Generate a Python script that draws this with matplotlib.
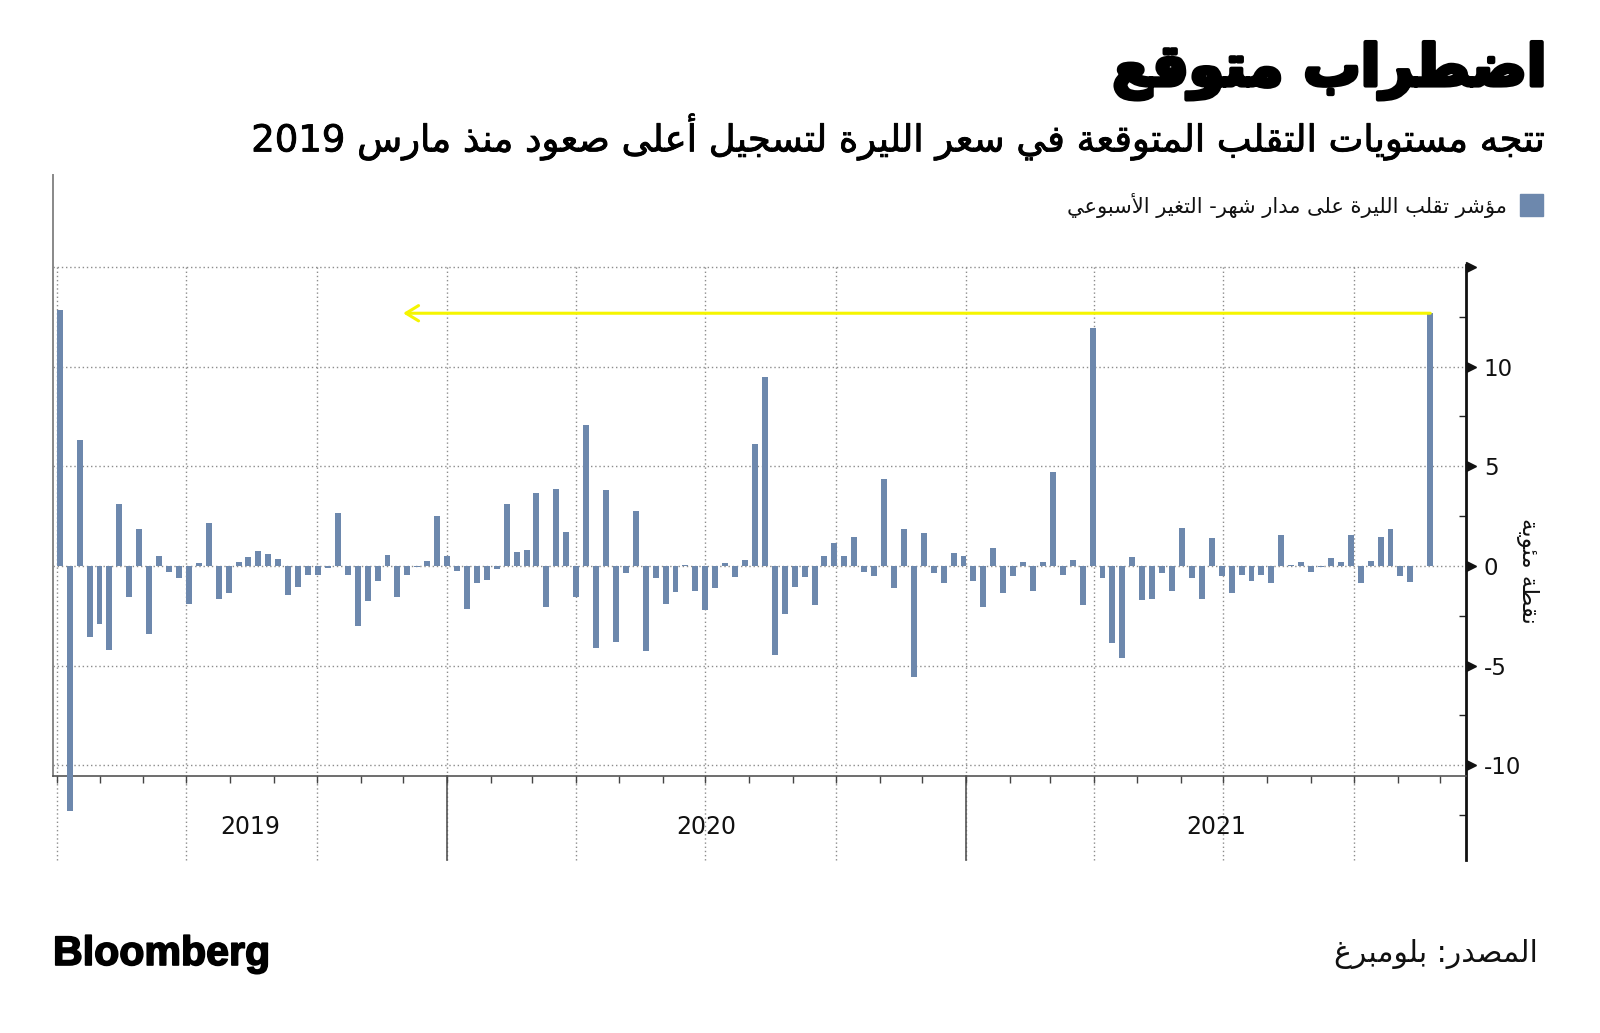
import re
import pandas as pd
import matplotlib
matplotlib.use('Agg')
import matplotlib.pyplot as plt
import matplotlib.dates as mdates
import matplotlib.transforms as mtransforms
import matplotlib.patheffects as pe
from matplotlib.patches import Rectangle
from matplotlib.ticker import FixedLocator

plt.rcParams['font.family'] = ['DejaVu Sans']
plt.rcParams['axes.unicode_minus'] = False

# ---- texts ----
title = 'اضطراب متوقع'
subtitle = 'تتجه مستويات التقلب المتوقعة في سعر الليرة لتسجيل أعلى صعود منذ مارس 2019'
legend_label = 'مؤشر تقلب الليرة على مدار شهر- التغير الأسبوعي'
y_label = 'نقطة مئوية'
source = 'المصدر: بلومبرغ'
logo = 'Bloomberg'

# ---- data: weekly change of the lira 1-month volatility index ----
first_week = '2019-04-03'
weekly_change = [
    12.84, -12.29, 6.32, -3.55, -2.89, -4.23, 3.11, -1.56, 1.84, -3.39,
    0.52, -0.32, -0.60, -1.89, 0.13, 2.16, -1.64, -1.37, 0.18, 0.43,
    0.77, 0.59, 0.33, -1.45, -1.07, -0.43, -0.43, -0.10, 2.66, -0.43,
    -3.03, -1.76, -0.75, 0.57, -1.56, -0.43, -0.05, 0.25, 2.53, 0.50,
    -0.23, -2.14, -0.87, -0.69, -0.17, 3.11, 0.69, 0.82, 3.68, -2.07,
    3.86, 1.72, -1.56, 7.09, -4.10, 3.80, -3.80, -0.37, 2.74, -4.28,
    -0.62, -1.89, -1.32, 0.07, -1.25, -2.21, -1.12, 0.13, -0.55, 0.32,
    6.14, 9.50, -4.48, -2.39, -1.05, -0.55, -1.96, 0.50, 1.14, 0.50,
    1.45, -0.30, -0.50, 4.36, -1.12, 1.84, -5.55, 1.64, -0.37, -0.87,
    0.64, 0.50, -0.75, -2.07, 0.89, -1.37, -0.50, 0.18, -1.25, 0.18,
    4.73, -0.43, 0.32, -1.96, 11.94, -0.62, -3.85, -4.60, 0.43, -1.71,
    -1.64, -0.37, -1.25, 1.89, -0.62, -1.64, 1.39, -0.50, -1.37, -0.43,
    -0.75, -0.43, -0.87, 1.57, 0.05, 0.18, -0.32, -0.05, 0.38, 0.18,
    1.57, -0.87, 0.25, 1.45, 1.84, -0.50, -0.80, 0.0, 12.68,
]
weeks = pd.date_range(first_week, periods=len(weekly_change), freq='7D')

x_range = ('2019-03-29', '2021-12-19')
arrow_to = '2019-12-01'
y_ticks = [-10, -5, 0, 5, 10, 15]
y_tick_labels = ['-10', '-5', '0', '5', '10', '']
y_minor = [-7.5, -2.5, 2.5, 7.5, 12.5]
y_minor_below = -12.5

BAR = '#6d88ad'
GRID = '#8c8c8c'

# ---- minimal arabic shaping (presentation forms + right-to-left order) ----
AR_FORMS = {
    'ء': (0xFE80, 1), 'آ': (0xFE81, 2), 'أ': (0xFE83, 2), 'ؤ': (0xFE85, 2),
    'إ': (0xFE87, 2), 'ئ': (0xFE89, 4), 'ا': (0xFE8D, 2), 'ب': (0xFE8F, 4),
    'ة': (0xFE93, 2), 'ت': (0xFE95, 4), 'ث': (0xFE99, 4), 'ج': (0xFE9D, 4),
    'ح': (0xFEA1, 4), 'خ': (0xFEA5, 4), 'د': (0xFEA9, 2), 'ذ': (0xFEAB, 2),
    'ر': (0xFEAD, 2), 'ز': (0xFEAF, 2), 'س': (0xFEB1, 4), 'ش': (0xFEB5, 4),
    'ص': (0xFEB9, 4), 'ض': (0xFEBD, 4), 'ط': (0xFEC1, 4), 'ظ': (0xFEC5, 4),
    'ع': (0xFEC9, 4), 'غ': (0xFECD, 4), 'ف': (0xFED1, 4), 'ق': (0xFED5, 4),
    'ك': (0xFED9, 4), 'ل': (0xFEDD, 4), 'م': (0xFEE1, 4), 'ن': (0xFEE5, 4),
    'ه': (0xFEE9, 4), 'و': (0xFEED, 2), 'ى': (0xFEEF, 2), 'ي': (0xFEF1, 4),
}
LAM_ALEF = {'ا': 0xFEFB, 'أ': 0xFEF7, 'إ': 0xFEF9, 'آ': 0xFEF5}


def shape(text):
    chars = []
    i = 0
    while i < len(text):
        if text[i] == 'ل' and i + 1 < len(text) and text[i + 1] in LAM_ALEF:
            chars.append(('LA', text[i + 1]))
            i += 2
        else:
            chars.append(text[i])
            i += 1
    out = []
    for k, c in enumerate(chars):
        prev = chars[k - 1] if k > 0 else None
        nxt = chars[k + 1] if k + 1 < len(chars) else None
        jp = isinstance(prev, str) and prev in AR_FORMS and AR_FORMS[prev][1] == 4
        jn = isinstance(nxt, tuple) or (isinstance(nxt, str) and nxt in AR_FORMS
                                        and AR_FORMS[nxt][1] > 1)
        if isinstance(c, tuple):
            out.append(chr(LAM_ALEF[c[1]] + (1 if jp else 0)))
            continue
        if c not in AR_FORMS:
            out.append(c)
            continue
        base, n = AR_FORMS[c]
        if n == 4:
            off = 3 if (jp and jn) else 1 if jp else 2 if jn else 0
        elif n == 2:
            off = 1 if jp else 0
        else:
            off = 0
        out.append(chr(base + off))
    return ''.join(out)


def rtl(text):
    parts = re.findall(r'[0-9]+|[^0-9]+', shape(text))
    return ''.join(p if p.isdigit() else p[::-1] for p in reversed(parts))


W, H = 1600, 1033
fig = plt.figure(figsize=(W / 100, H / 100), dpi=100)


def fx(px):
    return px / W


def fy(py):
    return 1 - py / H


ax_left, ax_right, ax_top, ax_bot = 52.7, 1465.7, 265, 776
ax = fig.add_axes([fx(ax_left), fy(ax_bot), fx(ax_right - ax_left), (ax_bot - ax_top) / H])

bars = ax.bar(weeks, weekly_change, width=4.2, color=BAR, zorder=3)
for b in bars:
    b.set_clip_on(False)

ax.set_xlim(pd.Timestamp(x_range[0]), pd.Timestamp(x_range[1]))
ax.set_ylim(-10.54, 15.1)

# y axis on the right with arrow markers
ax.yaxis.tick_right()
ax.yaxis.set_major_locator(FixedLocator(y_ticks))
ax.set_yticklabels(y_tick_labels)
ax.yaxis.set_minor_locator(FixedLocator(y_minor))
ax.tick_params(axis='y', which='major', length=0, pad=13, labelsize=16.5, labelcolor='#111')
ax.tick_params(axis='y', which='minor', direction='in', length=5, width=1, color='#222')
ax.grid(axis='y', which='major', ls=(0, (1, 2)), color=GRID, lw=1, zorder=0)
tr = mtransforms.offset_copy(ax.get_yaxis_transform(), fig=fig, x=4, y=0, units='points')
ax.plot([1] * len(y_ticks), y_ticks, ls='none', marker='>', ms=7, color='#111',
        transform=tr, clip_on=False, zorder=5)
# minor tick below the x axis on the extended right spine
ax.plot([1], [y_minor_below], ls='none', marker=0, ms=5, mew=1, color='#222',
        transform=ax.get_yaxis_transform(), clip_on=False)

# x axis: monthly ticks, quarterly dotted lines, yearly separators
ax.xaxis.set_major_locator(mdates.MonthLocator())
ax.tick_params(axis='x', which='major', length=5, width=1, color='#444', labelbottom=False)
band = -(860 - ax_bot) / (ax_bot - ax_top)
for q in pd.date_range('2019-04-01', x_range[1], freq='QS'):
    ax.axvline(q, ymin=band, ymax=1, ls=(0, (1, 2)), color=GRID, lw=1, clip_on=False, zorder=0)
for yr in pd.date_range('2020-01-01', x_range[1], freq='YS'):
    ax.axvline(yr, ymin=band, ymax=0, color='#555', lw=1.2, clip_on=False, zorder=1)

lo, hi = pd.Timestamp(x_range[0]), pd.Timestamp(x_range[1])
for year in [2019, 2020, 2021]:
    a = max(lo, pd.Timestamp(f'{year}-01-01'))
    b = min(hi, pd.Timestamp(f'{year + 1}-01-01'))
    mid = a + (b - a) / 2
    ax.text(mid, -0.1, str(year), transform=ax.get_xaxis_transform(), ha='center',
            va='center', fontsize=17, color='#111')

ax.spines['top'].set_visible(False)
ax.spines['bottom'].set_color('#555')
ax.spines['bottom'].set_linewidth(1.2)
ax.spines['right'].set_color('#111')
ax.spines['right'].set_linewidth(2)
ax.spines['right'].set_bounds(-14.75, 15.1)
ax.spines['left'].set_color('#888')
ax.spines['left'].set_linewidth(1.4)
ax.spines['left'].set_bounds(-10.54, 19.6)

# yellow arrow from the latest bar back to 2019
ax.annotate('', xy=(pd.Timestamp(arrow_to), weekly_change[-1]),
            xytext=(weeks[-1], weekly_change[-1]),
            arrowprops=dict(arrowstyle='->,head_length=0.9,head_width=0.55',
                            color='#f5f500', lw=2.2, shrinkA=0, shrinkB=0), zorder=4)

# ---- header / footer texts ----
t_title = fig.text(fx(1546), fy(71), rtl(title), ha='right', va='center',
                   fontsize=40, fontweight='bold', color='#000',
                   path_effects=[pe.withStroke(linewidth=3, foreground='#000')])
t_sub = fig.text(fx(1546), fy(137), rtl(subtitle), ha='right', va='center',
                 fontsize=24, color='#000',
                 path_effects=[pe.withStroke(linewidth=0.6, foreground='#000')])
t_leg = fig.text(fx(1507), fy(205), rtl(legend_label), ha='right', va='center',
                 fontsize=14, color='#111')
fig.patches.append(Rectangle((fx(1520), fy(216)), fx(23), 22 / H, transform=fig.transFigure,
                             color=BAR, zorder=3))
t_src = fig.text(fx(1538), fy(954), rtl(source), ha='right', va='center',
                 fontsize=18, color='#111')
t_ylab = fig.text(fx(1528), fy(571), rtl(y_label), ha='center', va='center',
                  fontsize=14, color='#111')
t_logo = fig.text(fx(53), fy(954), logo, ha='left', va='center', fontsize=30,
                  fontweight='bold', family=['Liberation Sans', 'DejaVu Sans'], color='#000',
                  path_effects=[pe.withStroke(linewidth=1.2, foreground='#000')])

fig.canvas.draw()
renderer = fig.canvas.get_renderer()
for t, width in [(t_title, 434), (t_sub, 1301), (t_leg, 446), (t_src, 203),
                 (t_ylab, 107), (t_logo, 217)]:
    w = t.get_window_extent(renderer).width
    t.set_fontsize(t.get_fontsize() * width / w)
t_ylab.set_rotation(270)

fig.savefig('out.png', dpi=100, facecolor='white')
